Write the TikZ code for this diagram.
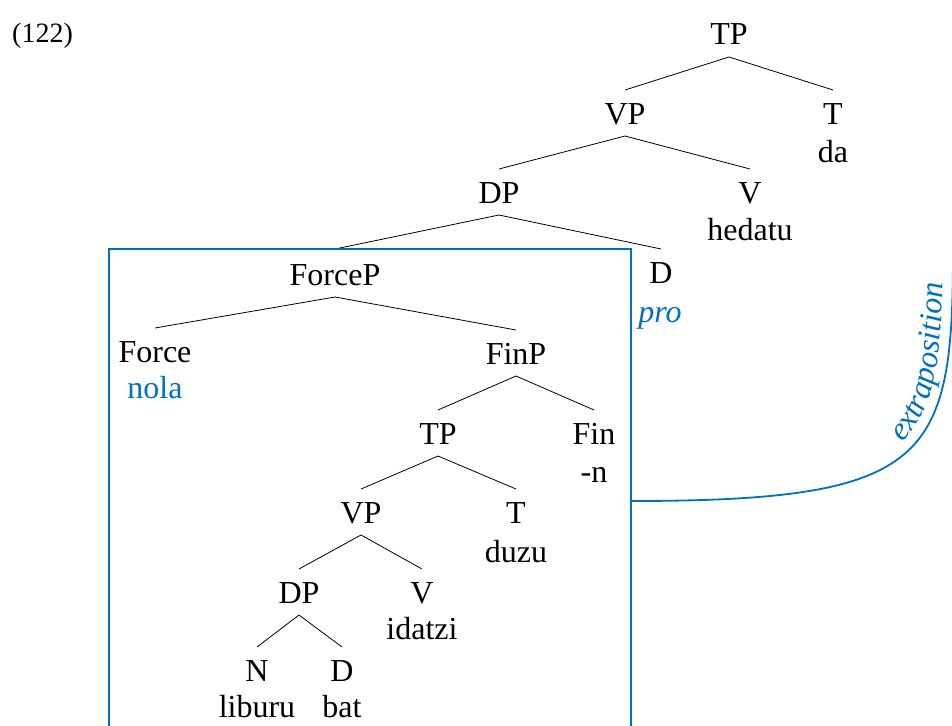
\documentclass[tikz,border=0pt]{standalone}
\usepackage{fontspec}
\setmainfont{Liberation Serif}
\usetikzlibrary{decorations.text}
\definecolor{eblue}{RGB}{0,114,188}
\newcommand\mybranch[2]{\draw[edge] ([yshift=-12pt]#1.base) -- ([yshift=34pt]#2.base);}
\begin{document}
\begin{tikzpicture}[x=1pt,y=-1pt,
  lab/.style={anchor=base, inner sep=0pt, font=\fontsize{32}{38}\selectfont},
  blueword/.style={lab, text=eblue},
  edge/.style={draw=black, line width=0.8pt},
  bluebox/.style={draw=eblue, line width=1.8pt},
  blueline/.style={draw=eblue, line width=1.8pt}]
\clip (0,0) rectangle (952,725);
\fill[white] (0,0) rectangle (952,725);
% example number
\node[lab, anchor=base west, font=\fontsize{28}{34}\selectfont] (num) at (12,42) {(122)};
% upper tree
\node[lab] (TPa) at (729,45) {TP};
\node[lab] (VPa) at (625,124) {VP};
\node[lab] (Ta) at (833,124) {T};
\node[lab] (da) at (833,162) {da};
\node[lab] (DPa) at (499,203) {DP};
\node[lab] (Va) at (750,203) {V};
\node[lab] (hedatu) at (750,240) {hedatu};
\node[lab] (Da) at (661,283) {D};
\node[blueword, font=\fontsize{32}{38}\selectfont\itshape] (pro) at (660,322) {pro};
% embedded clause
\node[lab] (ForceP) at (335,285) {ForceP};
\node[lab] (Force) at (155,362) {Force};
\node[blueword] (nola) at (155,398) {nola};
\node[lab] (FinP) at (516,364) {FinP};
\node[lab] (TPb) at (438,444) {TP};
\node[lab] (Fin) at (594,444) {Fin};
\node[lab] (negn) at (594,482) {-n};
\node[lab] (VPb) at (361,523) {VP};
\node[lab] (Tb) at (516,523) {T};
\node[lab] (duzu) at (516,562) {duzu};
\node[lab] (DPb) at (299,603) {DP};
\node[lab] (Vb) at (422,603) {V};
\node[lab] (idatzi) at (422,639) {idatzi};
\node[lab] (N) at (257,681) {N};
\node[lab] (Db) at (342,681) {D};
\node[lab] (liburu) at (257,717) {liburu};
\node[lab] (bat) at (342,717) {bat};
% branches
\mybranch{TPa}{VPa}
\mybranch{TPa}{Ta}
\mybranch{VPa}{DPa}
\mybranch{VPa}{Va}
\draw[edge] ([yshift=-12pt]DPa.base) -- ([yshift=36pt]ForceP.base);
\mybranch{DPa}{Da}
\mybranch{ForceP}{Force}
\mybranch{ForceP}{FinP}
\mybranch{FinP}{TPb}
\mybranch{FinP}{Fin}
\mybranch{TPb}{VPb}
\mybranch{TPb}{Tb}
\mybranch{VPb}{DPb}
\mybranch{VPb}{Vb}
\mybranch{DPb}{N}
\mybranch{DPb}{Db}
% box around the extraposed clause
\draw[bluebox] (109,249) rectangle (631,780);
% extraposition curve
\coordinate (boxR) at (631,501);
\coordinate (curveTop) at (953,250);
\coordinate (offTop) at (953,-20);
\draw[blueline] (boxR) .. controls (930,501) and (953,460) .. (curveTop) -- (offTop);
% label set along a path parallel to the curve, on its inner side
\coordinate (labStart) at (631,491);
\coordinate (labTop) at (943,250);
\path[decorate, decoration={text along path,
    text={|\fontsize{32}{38}\selectfont\itshape\color{eblue}|extraposition},
    text align={left indent=281pt}}]
  (labStart) .. controls (920,491) and (943,458) .. (labTop) -- ++(0,-200);
\end{tikzpicture}
\end{document}
